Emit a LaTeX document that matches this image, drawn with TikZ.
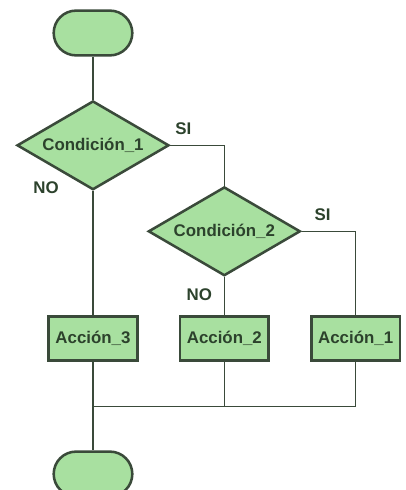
\documentclass[tikz,border=0pt]{standalone}
\usepackage{fontspec}
\setsansfont{Liberation Sans}
\usepackage{tikz}
\usetikzlibrary{shapes.geometric, shapes.misc, positioning}

\definecolor{boxfill}{RGB}{168,224,160}
\definecolor{boxline}{RGB}{58,74,58}
\definecolor{txtcol}{RGB}{44,66,44}

\begin{document}
\begin{tikzpicture}[
    node distance=1cm and 1cm,
    font=\sffamily\bfseries\fontsize{12}{14}\selectfont,
    terminal/.style={draw=boxline, fill=boxfill, rounded rectangle, line width=1.8pt, minimum width=2.2cm, minimum height=1.12cm},
    decision/.style={draw=boxline, fill=boxfill, diamond, aspect=1.7, line width=1.8pt, inner sep=0pt, minimum width=3.8cm, minimum height=2.22cm, text=txtcol},
    action/.style={draw=boxline, fill=boxfill, rectangle, line width=1.8pt, minimum width=2.22cm, minimum height=1.1cm, text=txtcol},
    lbl/.style={inner sep=0pt, text=txtcol},
    link/.style={draw=boxline, line width=1pt}
]

\useasboundingbox (-2.325,0.825) rectangle (7.8,-11.425);

\node[terminal] (start) at (0,0) {};
\node[decision, below=1.075cm of start] (cond1) {Condición\_1};
\node[action, below=3.1cm of cond1] (act3) {Acción\_3};
\node[action, right=of act3] (act2) {Acción\_2};
\node[action, right=of act2] (act1) {Acción\_1};
\node[decision, above=0.95cm of act2] (cond2) {Condición\_2};
\coordinate[below=1.12cm of act3] (join);
\node[terminal, below=2.22cm of act3] (end) {};

% labels of the branches
\node[lbl, above right=0.27cm and 0.12cm of cond1.east] (si1) {SI};
\node[lbl, left=0.85cm of cond1.south, yshift=0.08cm] (no1) {NO};
\node[lbl, above right=0.25cm and 0.32cm of cond2.east] (si2) {SI};
\node[lbl, below left=0.28cm and 0.3cm of cond2.south] (no2) {NO};

\draw[link] (start) -- (cond1);
\draw[link] (cond1.east) -| (cond2.north);
\draw[link] (cond1.south) -- (act3.north);
\draw[link] (cond2.east) -| (act1.north);
\draw[link] (cond2.south) -- (act2.north);
\draw[link] (act3.south) -- (end.north);
\draw[link] (act1.south) |- (join);
\draw[link] (act2.south) -- (act2.south |- join);

\end{tikzpicture}
\end{document}
